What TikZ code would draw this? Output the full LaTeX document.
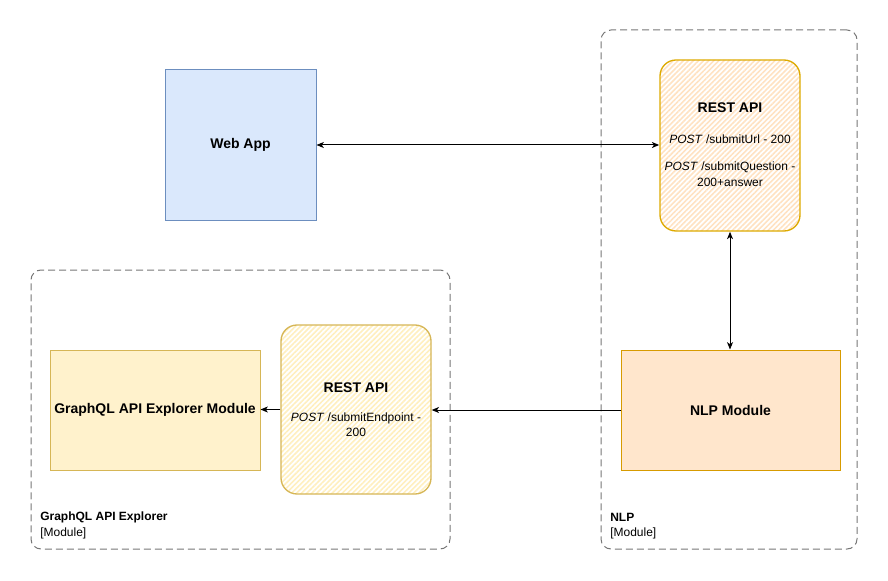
\documentclass[tikz,border=0pt]{standalone}
\usepackage{fontspec}
\setmainfont{Liberation Sans}
\usetikzlibrary{arrows.meta,patterns.meta}

\definecolor{blueFill}{HTML}{DAE8FC}
\definecolor{blueLine}{HTML}{6C8EBF}
\definecolor{orangeFill}{HTML}{FFE6CC}
\definecolor{orangeLine}{HTML}{D79B00}
\definecolor{orangeHatch}{HTML}{FFE2C2}
\definecolor{yellowFill}{HTML}{FFF2CC}
\definecolor{yellowLine}{HTML}{D6B656}
\definecolor{yellowHatch}{HTML}{FFEFBF}
\definecolor{groupLine}{HTML}{777777}

\tikzset{
  box/.style={draw, line width=0.75pt, inner sep=0pt},
  group/.style={draw=groupLine, line width=0.75pt, dash pattern=on 5.25pt off 3pt,
    rounded corners=7.5pt, inner sep=0pt},
  sketchbox/.style={draw, line width=1pt, rounded corners=12pt, inner sep=0pt},
  hatch/.style={pattern={Lines[angle=45, distance=2.7pt, line width=1.2pt]}, pattern color=#1},
  title/.style={font=\bfseries\fontsize{10.5pt}{12.6pt}\selectfont},
  body/.style={font=\fontsize{9pt}{10.8pt}\selectfont},
  grouptitle/.style={font=\bfseries\fontsize{9pt}{10.8pt}\selectfont, anchor=west, inner sep=0pt},
  grouptag/.style={font=\fontsize{9pt}{10.8pt}\selectfont, anchor=west, inner sep=0pt},
  link/.style={line width=0.75pt,
    -{Stealth[length=5.5pt,width=4.5pt,inset=1.5pt]}},
  duplex/.style={line width=0.75pt,
    {Stealth[length=5.5pt,width=4.5pt,inset=1.5pt]}-{Stealth[length=5.5pt,width=4.5pt,inset=1.5pt]}},
}

\begin{document}
\begin{tikzpicture}[x=0.75pt, y=-0.75pt]
\useasboundingbox (0,0) rectangle (888,581);

% module containers
\node[group, minimum width={256*0.75pt}, minimum height={519*0.75pt}] (nlpgroup) at (729,289.5) {};
\node[group, minimum width={419*0.75pt}, minimum height={279*0.75pt}] (gqlgroup) at (240.5,409.5) {};

\node[grouptitle] (nlpname) at (610,517) {NLP};
\node[grouptag] (nlptag) at (610,533) {[Module]};
\node[grouptitle] (gqlname) at (40,517) {GraphQL API Explorer};
\node[grouptag] (gqltag) at (40,533) {[Module]};

% web client
\node[box, fill=blueFill, draw=blueLine, minimum width={151*0.75pt}, minimum height={150*0.75pt},
  title] (webapp) at (240.5,145) {Web App};

% NLP REST interface
\node[sketchbox, draw=orangeLine!85!yellow, hatch=orangeHatch,
  minimum width={140*0.75pt}, minimum height={171*0.75pt}] (resttop) at (730,145.5) {};
\node[title] (resttoptitle) at (730,108) {REST API};
\node[body] (resttopa) at (730,139) {\textit{POST} /submitUrl - 200};
\node[body] (resttopb) at (730,167) {\textit{POST} /submitQuestion -};
\node[body] (resttopc) at (730,182) {200+answer};

% NLP core
\node[box, fill=orangeFill, draw=orangeLine, minimum width={219*0.75pt}, minimum height={120*0.75pt},
  title] (nlpmod) at (730.5,410) {NLP Module};

% GraphQL explorer REST interface
\node[sketchbox, draw=yellowLine, hatch=yellowHatch,
  minimum width={150*0.75pt}, minimum height={169*0.75pt}] (restbot) at (356,409.5) {};
\node[title] (restbottitle) at (356,388) {REST API};
\node[body] (restbota) at (356,418) {\textit{POST} /submitEndpoint -};
\node[body] (restbotb) at (356,432) {200};

% GraphQL explorer core
\node[box, fill=yellowFill, draw=yellowLine, minimum width={210*0.75pt}, minimum height={120*0.75pt},
  title] (gqlmod) at (155,410) {GraphQL API Explorer Module};

% connectors
\draw[duplex] (webapp.east) -- (webapp.east -| resttop.west);
\draw[duplex] (resttop.south) -- (resttop.south |- nlpmod.north);
\draw[link] (nlpmod.west) -- (nlpmod.west -| restbot.east);
\draw[link] (restbot.west) -- (restbot.west -| gqlmod.east);
\end{tikzpicture}
\end{document}
